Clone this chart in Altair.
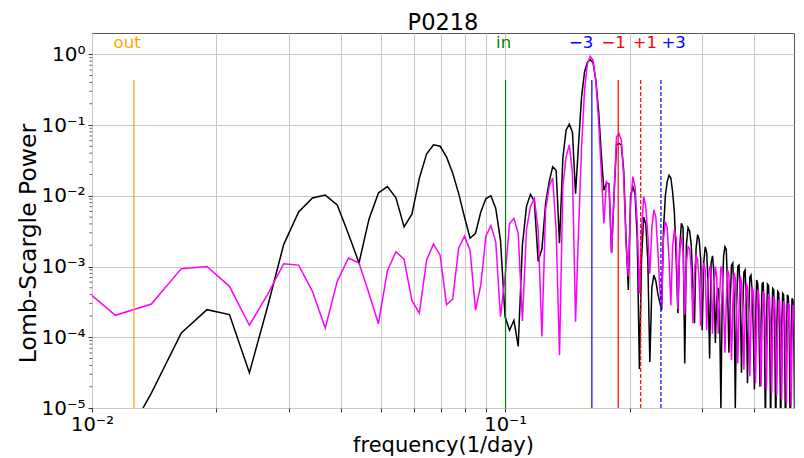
import altair as alt
import pandas as pd

# ---------------- data ----------------
TITLE = "P0218"

FREQ = [
    0.00886, 0.01139, 0.01392, 0.01645, 0.01898, 0.02151, 0.02404, 0.02657, 0.02910, 0.03163,
    0.03416, 0.03669, 0.03922, 0.04175, 0.04428, 0.04681, 0.04934, 0.05187, 0.05440, 0.05693,
    0.05946, 0.06199, 0.06452, 0.06705, 0.06958, 0.07211, 0.07464, 0.07717, 0.07970, 0.08223,
    0.08476, 0.08729, 0.08982, 0.09235, 0.09488, 0.09741, 0.09994, 0.10247, 0.10500, 0.10753,
    0.11006, 0.11259, 0.11512, 0.11765, 0.12018, 0.12271, 0.12524, 0.12777, 0.13030, 0.13283,
    0.13536, 0.13789, 0.14042, 0.14295, 0.14548, 0.14801, 0.15054, 0.15307, 0.15560, 0.15813,
    0.16066, 0.16319, 0.16572, 0.16825, 0.17078, 0.17331, 0.17584, 0.17837, 0.18090, 0.18343,
    0.18596, 0.18849, 0.19102, 0.19355, 0.19608, 0.19861, 0.20114, 0.20367, 0.20620, 0.20873,
    0.21126, 0.21379, 0.21632, 0.21885, 0.22138, 0.22391, 0.22644, 0.22897, 0.23150, 0.23403,
    0.23656, 0.23909, 0.24162, 0.24415, 0.24668, 0.24921, 0.25174, 0.25427, 0.25680, 0.25933,
    0.26186, 0.26439, 0.26692, 0.26945, 0.27198, 0.27451, 0.27704, 0.27957, 0.28210, 0.28463,
    0.28716, 0.28969, 0.29222, 0.29475, 0.29728, 0.29981, 0.30234, 0.30487, 0.30740, 0.30993,
    0.31246, 0.31499, 0.31752, 0.32005, 0.32258, 0.32511, 0.32764, 0.33017, 0.33270, 0.33523,
    0.33776, 0.34029, 0.34282, 0.34535, 0.34788, 0.35041, 0.35294, 0.35547, 0.35800, 0.36053,
    0.36306, 0.36559, 0.36812, 0.37065, 0.37318, 0.37571, 0.37824, 0.38077, 0.38330, 0.38583,
    0.38836, 0.39089, 0.39342, 0.39595, 0.39848, 0.40101, 0.40354, 0.40607, 0.40860, 0.41113,
    0.41366, 0.41619, 0.41872, 0.42125, 0.42378, 0.42631, 0.42884, 0.43137, 0.43390, 0.43643,
    0.43896, 0.44149, 0.44402, 0.44655, 0.44908, 0.45161, 0.45414, 0.45667, 0.45920, 0.46173,
    0.46426, 0.46679, 0.46932, 0.47185, 0.47438, 0.47691, 0.47944, 0.48197, 0.48450, 0.48703,
    0.48956, 0.49209, 0.49462, 0.49715, 0.49968, 0.50221,
]

# log10 of Lomb-Scargle power, black curve
BLACK_LOG10 = [
    -6.00, -5.70, -4.79, -3.94, -3.61, -3.68, -4.50, -3.58, -2.69, -2.23,
    -2.03, -1.99, -2.13, -2.54, -2.95, -2.33, -1.96, -1.87, -2.03, -2.44,
    -2.26, -1.75, -1.41, -1.28, -1.30, -1.45, -1.68, -1.97, -2.30, -2.60,
    -2.53, -2.23, -2.04, -2.00, -2.18, -2.63, -3.71, -3.90, -3.76, -4.13,
    -2.70, -2.15, -1.98, -2.08, -2.93, -2.75, -2.11, -1.80, -1.59, -1.64,
    -2.67, -1.47, -1.07, -0.99, -1.10, -1.97, -1.26, -0.60, -0.25, -0.11,
    -0.075, -0.12, -0.37, -0.79, -1.40, -1.92, -1.82, -1.83, -2.81, -1.97,
    -1.28, -1.26, -1.28, -1.64, -2.58, -3.33, -2.01, -1.87, -1.97, -2.60,
    -4.45, -2.90, -2.30, -2.40, -2.90, -4.35, -3.30, -3.12, -3.20, -3.38,
    -3.50, -3.62, -2.48, -2.00, -1.80, -1.71, -1.75, -1.95, -2.25, -2.90,
    -3.66, -2.75, -2.39, -2.45, -4.37, -2.70, -2.45, -2.50, -2.70, -3.30,
    -3.80, -2.75, -2.55, -2.62, -2.90, -3.90, -2.95, -2.72, -2.80, -3.30,
    -4.30, -2.95, -2.85, -3.10, -4.08, -3.45, -3.30, -3.55, -5.00, -3.40,
    -2.85, -2.72, -2.76, -3.30, -4.22, -3.50, -2.98, -2.95, -3.40, -5.00,
    -3.55, -3.00, -2.98, -3.45, -4.50, -3.60, -3.08, -3.05, -3.50, -4.65,
    -3.70, -3.15, -3.12, -3.35, -3.90, -4.74, -3.75, -3.19, -3.25, -3.75,
    -4.70, -3.78, -3.24, -3.23, -3.70, -5.30, -3.80, -3.25, -3.27, -3.75,
    -5.30, -3.85, -3.31, -3.33, -3.80, -5.40, -3.90, -3.35, -3.37, -3.85,
    -5.40, -3.92, -3.38, -3.40, -3.88, -5.50, -3.95, -3.40, -3.43, -3.92,
    -5.50, -4.00, -3.45, -3.48, -3.95, -5.50,
]

# log10 of Lomb-Scargle power, magenta curve
MAGENTA_LOG10 = [
    -3.15, -3.69, -3.53, -3.03, -3.00, -3.28, -3.83, -3.40, -2.96, -2.98,
    -3.35, -3.87, -3.21, -2.88, -2.95, -3.38, -3.81, -3.06, -2.79, -2.90,
    -3.48, -3.66, -2.91, -2.68, -2.84, -3.54, -3.46, -2.74, -2.57, -2.77,
    -3.62, -3.26, -2.57, -2.42, -2.65, -3.71, -3.14, -2.39, -2.32, -2.53,
    -3.77, -2.48, -2.15, -2.04, -2.48, -3.99, -2.20, -1.87, -1.75, -2.48,
    -4.25, -1.87, -1.45, -1.28, -1.68, -3.78, -2.48, -1.31, -0.51, -0.13,
    -0.03, -0.085, -0.37, -0.93, -1.64, -2.39, -1.80, -1.85, -2.81, -2.01,
    -1.17, -1.12, -1.21, -1.73, -2.67, -3.14, -2.11, -1.73, -1.87, -2.39,
    -3.38, -2.50, -2.01, -2.15, -2.55, -3.10, -2.45, -2.20, -2.30, -2.75,
    -3.30, -3.57, -2.60, -2.37, -2.45, -2.90, -3.55, -2.70, -2.48, -2.60,
    -3.60, -2.75, -2.58, -2.80, -3.68, -2.95, -2.72, -2.75, -3.05, -3.80,
    -3.05, -2.85, -2.90, -3.20, -3.84, -3.10, -2.95, -3.05, -3.90, -3.20,
    -3.00, -3.10, -3.95, -3.30, -3.00, -3.15, -3.95, -3.45, -3.00, -3.08,
    -3.60, -4.22, -3.50, -3.05, -3.12, -3.65, -4.32, -3.55, -3.09, -3.17,
    -3.70, -4.37, -3.60, -3.14, -3.22, -3.75, -4.46, -3.70, -3.24, -3.30,
    -3.85, -4.55, -3.75, -3.28, -3.35, -3.90, -4.65, -3.80, -3.33, -3.40,
    -3.95, -4.69, -3.82, -3.35, -3.42, -3.97, -4.74, -3.85, -3.38, -3.45,
    -4.00, -4.79, -3.90, -3.42, -3.47, -4.05, -4.83, -3.95, -3.47, -3.50,
    -4.08, -4.88, -3.98, -3.49, -3.53, -4.10, -4.93, -4.00, -3.52, -3.56,
    -4.12, -4.98, -4.05, -3.54, -3.58, -4.15,
]

# vertical marker lines and their labels
MARK_FREQ = [0.01263, 0.1002, 0.1621, 0.1877, 0.2128, 0.2382]
MARK_COLOR = ["#ffa500", "#008000", "#0000ff", "#ff0000", "#ff0000", "#0000ff"]
MARK_STYLE = ["solid", "solid", "solid", "solid", "dashed", "dashed"]
LABEL_TEXT = ["out", "in", "\u22123", "\u22121", "+1", "+3"]
LABEL_FREQ = [0.01216, 0.0991, 0.1527, 0.1829, 0.2178, 0.2557]

# axis ticks
X_TICKS = [0.01, 0.02, 0.03, 0.04, 0.05, 0.06, 0.07, 0.08, 0.09, 0.1, 0.2, 0.3, 0.4]
Y_TICKS = [1e-5, 1e-4, 1e-3, 1e-2, 1e-1, 1.0]
Y_MINOR_MANTISSA = [2, 3, 4, 5, 6, 7, 8, 9]
Y_MINOR_DECADES = [1e-5, 1e-4, 1e-3, 1e-2, 1e-1, 1.0]

assert len(FREQ) == len(BLACK_LOG10) == len(MAGENTA_LOG10)

# ---------------- tables ----------------
df_black = pd.DataFrame({"freq": FREQ, "power": [10 ** v for v in BLACK_LOG10]})
df_mag = pd.DataFrame({"freq": FREQ, "power": [10 ** v for v in MAGENTA_LOG10]})
df_mark = pd.DataFrame({"freq": MARK_FREQ, "color": MARK_COLOR, "style": MARK_STYLE})
df_lab = pd.DataFrame({"freq": LABEL_FREQ, "label": LABEL_TEXT, "color": MARK_COLOR})
df_minor = pd.DataFrame({"power": [m * d for d in Y_MINOR_DECADES for m in Y_MINOR_MANTISSA if m * d < 2]})
df_title = pd.DataFrame({"t": [TITLE]})

FONT = "DejaVu Sans"
W, H = 702, 375

xscale = alt.Scale(type="log", domain=[0.01, 0.5], nice=False)
yscale = alt.Scale(type="log", domain=[1e-5, 2], nice=False)

xaxis = alt.Axis(
    values=X_TICKS,
    labelExpr="datum.value == 0.01 ? '10\u207b\u00b2' : (datum.value == 0.1 ? '10\u207b\u00b9' : '')",
    grid=True, gridColor="#c8c8c8", gridWidth=1,
    domain=False, tickSize=4, tickColor="#333333",
    labelFont=FONT, labelFontSize=19.5, labelColor="#000000", labelPadding=3,
    labelFlush=False, labelOverlap=False,
    title="frequency(1/day)", titleFont=FONT, titleFontSize=21,
    titleFontWeight="normal", titleColor="#000000",
    titleBaseline="alphabetic", titleY=43, titleX=W / 2, titleAlign="center",
)
yaxis = alt.Axis(
    values=Y_TICKS,
    labelExpr=(
        "datum.value >= 0.5 ? '10\u2070' : datum.value >= 0.05 ? '10\u207b\u00b9' : "
        "datum.value >= 0.005 ? '10\u207b\u00b2' : datum.value >= 0.0005 ? '10\u207b\u00b3' : "
        "datum.value >= 0.00005 ? '10\u207b\u2074' : '10\u207b\u2075'"
    ),
    grid=True, gridColor="#c8c8c8", gridWidth=1,
    domain=False, tickSize=4, tickColor="#333333",
    labelFont=FONT, labelFontSize=20, labelColor="#000000", labelPadding=3,
    labelOverlap=False, labelFlush=False,
    title="Lomb-Scargle Power", titleFont=FONT, titleFontSize=23.5,
    titleFontWeight="normal", titleColor="#000000",
    titleBaseline="middle", titleAlign="center", titleAngle=270,
    titleX=-64, titleY=210,
)

x_enc = alt.X("freq:Q", scale=xscale, axis=xaxis)
y_enc = alt.Y("power:Q", scale=yscale, axis=yaxis)

black = alt.Chart(df_black).mark_line(color="#000000", strokeWidth=1.5, clip=True).encode(
    x=x_enc, y=y_enc
)
magenta = alt.Chart(df_mag).mark_line(color="#ff00ff", strokeWidth=1.5, clip=True).encode(
    x=x_enc, y=y_enc
)
marks = alt.Chart(df_mark).mark_rule(strokeWidth=1.2).encode(
    x=x_enc,
    y=alt.value(47),
    y2=alt.value(H),
    color=alt.Color("color:N", scale=None),
    strokeDash=alt.StrokeDash(
        "style:N",
        scale=alt.Scale(domain=["solid", "dashed"], range=[[1, 0], [4, 2]]),
        legend=None,
    ),
)
labels = alt.Chart(df_lab).mark_text(
    font=FONT, fontSize=16.5, baseline="middle", align="center"
).encode(
    x=x_enc,
    y=alt.value(9.5),
    text="label:N",
    color=alt.Color("color:N", scale=None),
)
minor_y = alt.Chart(df_minor).mark_rule(color="#333333", strokeWidth=0.8).encode(
    y=alt.Y("power:Q", scale=yscale, axis=yaxis),
    x=alt.value(-2.5),
    x2=alt.value(0),
)
title = alt.Chart(df_title).mark_text(
    font=FONT, fontSize=22.5, baseline="alphabetic", align="center", color="#000000"
).encode(
    text="t:N",
    x=alt.value(W / 2),
    y=alt.value(-3.5),
)

chart = (
    alt.layer(black, magenta, marks, labels, minor_y, title)
    .properties(
        width=W,
        height=H,
        autosize=alt.AutoSizeParams(type="none"),
        padding={"left": 92, "top": 33, "right": 10, "bottom": 50},
        background="#ffffff",
    )
    .configure_view(stroke="#555555", strokeWidth=1)
)

chart.save("out.html", embed_options={"renderer": "svg", "actions": False})
